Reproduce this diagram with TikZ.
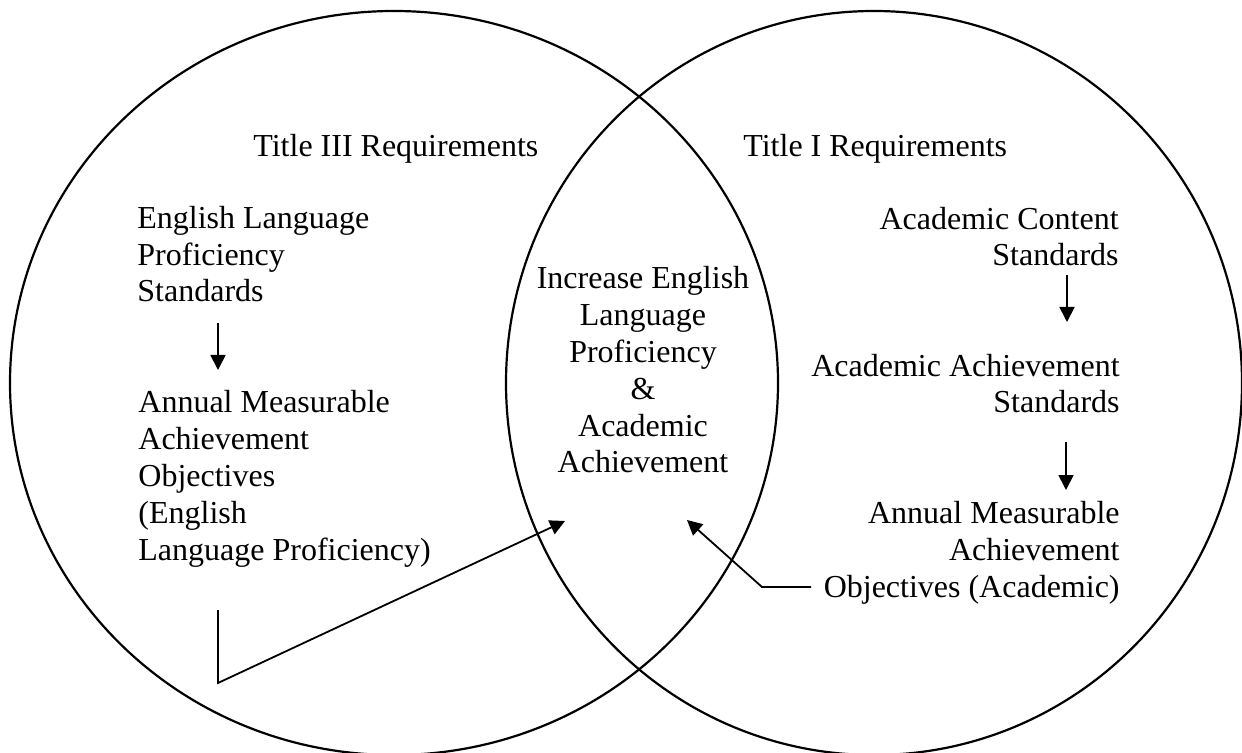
\documentclass[tikz,border=0pt]{standalone}
\usepackage{fontspec}
\setmainfont{Liberation Serif}
\usetikzlibrary{arrows.meta}
\begin{document}
\begin{tikzpicture}[x=0.5pt,y=-0.5pt,
  venn/.style={line width=1.1pt},
  lbl/.style={inner sep=0pt, font=\fontsize{16}{18.4}\selectfont},
  arr/.style={line width=0.9pt, -{Triangle[length=7.5pt,width=7.5pt]}},
  ln/.style={line width=0.9pt}]
\useasboundingbox (0,0) rectangle (1242,753);
% circles
\draw[venn] (394,383) ellipse [x radius=384, y radius=372];
\draw[venn] (874,383) ellipse [x radius=368, y radius=372];
% headings
\node[lbl, anchor=base west] (t3) at (253,157) {Title III Requirements};
\node[lbl, anchor=base west] (t1) at (743,157) {Title I Requirements};
% left side (base = baseline of last line)
\node[lbl, anchor=base west, align=left] (elp) at (137,302) {English Language\\Proficiency\\Standards};
\node[lbl, anchor=base west, align=left] (amao) at (138,560) {Annual Measurable\\Achievement\\Objectives\\(English\\Language Proficiency)};
% right side
\node[lbl, anchor=base east, align=right] (acs) at (1119,266) {Academic Content\\Standards};
\node[lbl, anchor=base east, align=right] (aas) at (1120,413) {Academic Achievement\\Standards};
\node[lbl, anchor=base east, align=right] (amo) at (1120,597) {Annual Measurable\\Achievement\\Objectives (Academic)};
% centre
\node[lbl, anchor=base, align=center] (mid) at (643,473) {Increase English\\Language\\Proficiency\\\&\\Academic\\Achievement};
% connector points
\coordinate (a1s) at (218,323);
\coordinate (a1e) at (218,370);
\coordinate (a2s) at (1067,275);
\coordinate (a2e) at (1067,322);
\coordinate (a3s) at (1066,442);
\coordinate (a3e) at (1066,490);
\coordinate (l1) at (218,610);
\coordinate (l2) at (218,683);
\coordinate (ltip) at (565,521);
\coordinate (r1) at (811,587);
\coordinate (r2) at (762,587);
\coordinate (rtip) at (687,520);
% arrows
\draw[arr] (a1s) -- (a1e);
\draw[arr] (a2s) -- (a2e);
\draw[arr] (a3s) -- (a3e);
\draw[arr] (l1) -- (l2) -- (ltip);
\draw[arr] (r1) -- (r2) -- (rtip);
\end{tikzpicture}
\end{document}
